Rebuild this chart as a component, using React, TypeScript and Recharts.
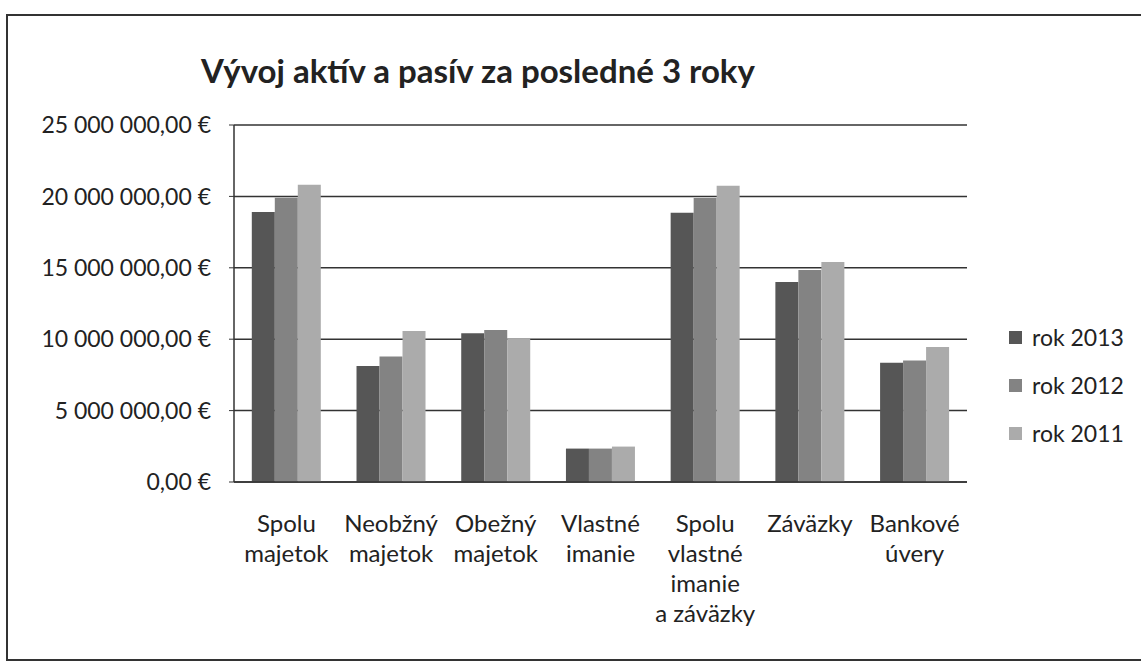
import React from "react";
import { BarChart, Bar, XAxis, YAxis, CartesianGrid } from "recharts";

const categories = [
  "Spolu majetok",
  "Neobžný majetok",
  "Obežný majetok",
  "Vlastné imanie",
  "Spolu vlastné imanie a závazky",
  "Záväzky",
  "Bankové úvery",
];
const categoryLines = [
  ["Spolu", "majetok"],
  ["Neobžný", "majetok"],
  ["Obežný", "majetok"],
  ["Vlastné", "imanie"],
  ["Spolu", "vlastné", "imanie", "a záväzky"],
  ["Záväzky"],
  ["Bankové", "úvery"],
];
const rok2013 = [18900000, 8120000, 10420000, 2340000, 18850000, 14000000, 8350000];
const rok2012 = [19900000, 8780000, 10650000, 2340000, 19880000, 14850000, 8500000];
const rok2011 = [20820000, 10580000, 10070000, 2480000, 20750000, 15400000, 9450000];
const yTicks = [0, 5000000, 10000000, 15000000, 20000000, 25000000];
const seriesNames = ["rok 2013", "rok 2012", "rok 2011"];
const seriesColors = ["#565656", "#838383", "#ababab"];

const data = categories.map((c, i) => ({
  idx: i,
  name: c,
  r2013: rok2013[i],
  r2012: rok2012[i],
  r2011: rok2011[i],
}));

const FONT = "Lato, 'Open Sans', sans-serif";

function fmt(v: number): string {
  const s = Math.round(v).toString();
  const parts: string[] = [];
  for (let i = s.length; i > 0; i -= 3) {
    parts.unshift(s.substring(Math.max(0, i - 3), i));
  }
  return parts.join(" ") + ",00 €";
}

const XTick = (props: any) => {
  const { x, y, payload } = props;
  const lines = categoryLines[payload.value] || [];
  return (
    <g transform={`translate(${x},${y})`}>
      {lines.map((l: string, i: number) => (
        <text
          key={i}
          x={0}
          y={0}
          dy={42 + i * 30}
          textAnchor="middle"
          fontFamily={FONT}
          fontSize={24}
          fill="#222"
        >
          {l}
        </text>
      ))}
    </g>
  );
};

export default function App() {
  return (
    <div
      style={{
        position: "absolute",
        left: 0,
        top: 0,
        width: 1141,
        height: 663,
        background: "#fff",
        overflow: "hidden",
      }}
    >
      <div
        style={{
          position: "absolute",
          left: 6,
          top: 14,
          width: 1160,
          height: 647,
          border: "2px solid #333",
          boxSizing: "border-box",
        }}
      />
      <div
        style={{
          position: "absolute",
          left: 0,
          top: 42,
          width: 956,
          textAlign: "center",
          fontFamily: FONT,
          fontWeight: 700,
          fontSize: 33,
          color: "#222",
          lineHeight: "56px",
        }}
      >
        Vývoj aktív a pasív za posledné 3 roky
      </div>
      <div
        style={{
          position: "absolute",
          left: 1009,
          top: 313,
          fontFamily: FONT,
          fontSize: 23,
          color: "#222",
        }}
      >
        {seriesNames.map((n, i) => (
          <div key={n} style={{ display: "flex", alignItems: "center", height: 48 }}>
            <span
              style={{
                display: "inline-block",
                width: 13,
                height: 13,
                background: seriesColors[i],
                marginRight: 10,
              }}
            />
            <span>{n}</span>
          </div>
        ))}
      </div>
      <div style={{ position: "absolute", left: 0, top: 0 }}>
        <BarChart
          width={1141}
          height={663}
          data={data}
          margin={{ top: 125, right: 174, bottom: 61, left: 0 }}
          barCategoryGap="17%"
          barGap={0}
        >
          <CartesianGrid vertical={false} stroke="#333" strokeWidth={1.5} />
          <XAxis
            dataKey="idx"
            type="category"
            interval={0}
            height={120}
            tick={<XTick />}
            tickLine={false}
            axisLine={{ stroke: "#333", strokeWidth: 1.5 }}
          />
          <YAxis
            width={234}
            domain={[0, 25000000]}
            ticks={yTicks}
            tickFormatter={fmt}
            tickSize={5}
            tickMargin={18}
            tickLine={{ stroke: "#333" }}
            axisLine={{ stroke: "#333", strokeWidth: 1.5 }}
            tick={{ fontFamily: FONT, fontSize: 23, fill: "#222" }}
          />
          <Bar dataKey="r2013" name={seriesNames[0]} fill={seriesColors[0]} isAnimationActive={false} />
          <Bar dataKey="r2012" name={seriesNames[1]} fill={seriesColors[1]} isAnimationActive={false} />
          <Bar dataKey="r2011" name={seriesNames[2]} fill={seriesColors[2]} isAnimationActive={false} />
        </BarChart>
      </div>
    </div>
  );
}
